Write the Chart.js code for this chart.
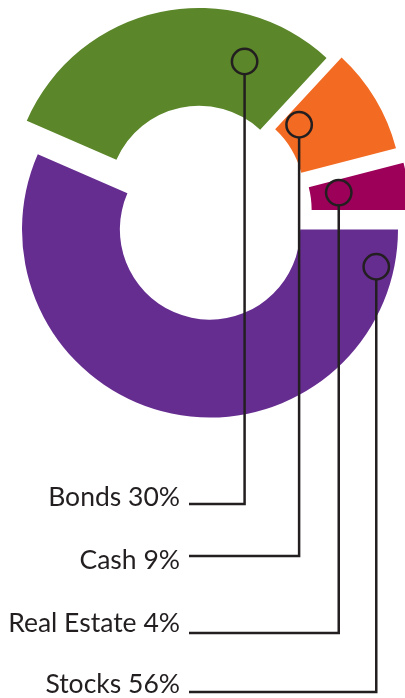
<!DOCTYPE html>
<html lang="en">
<head>
<meta charset="UTF-8" />
<title>Portfolio Allocation</title>
<script src="https://cdn.jsdelivr.net/npm/chart.js"></script>
<style>
  html, body { margin: 0; padding: 0; background: #fff; }
  #wrap { width: 405px; height: 698px; }
</style>
</head>
<body>
<div id="wrap"><canvas id="donut" width="405" height="698"></canvas></div>
<script>
// slices clockwise starting at 3 o'clock
const categories = ['Stocks', 'Bonds', 'Cash', 'Real Estate'];
const percents = [56, 30, 9, 4];
const colors = ['#662d91', '#5b8629', '#f36a22', '#9d0059'];

// order of the labels stacked under the ring
const labelOrder = ['Bonds', 'Cash', 'Real Estate', 'Stocks'];

// look of the original: slices pulled out by hand, not along their middle
const explode = [[0, 0], [-11, -33.5], [4, -34], [11.5, -19.5]];
// marker ring inside each slice: [fraction along the arc, fraction across the ring]
const markerAt = [[0.062, 0.82], [0.78, 0.53], [0.23, 0.21], [0.42, 0.29]];
const labelY = [497, 560, 623, 684];
const lineY = [504, 556, 633, 692];
const ink = '#231f20';

const explodePlugin = {
  id: 'explode',
  afterDatasetUpdate(chart, args) {
    args.meta.data.forEach((arc, i) => {
      arc.x += explode[i][0];
      arc.y += explode[i][1];
    });
  }
};

const calloutPlugin = {
  id: 'callouts',
  afterDraw(chart) {
    const ctx = chart.ctx;
    const arcs = chart.getDatasetMeta(0).data;
    ctx.save();
    ctx.strokeStyle = ink;
    ctx.fillStyle = ink;
    ctx.lineWidth = 2.5;
    ctx.font = '400 26.5px Lato';
    ctx.textAlign = 'right';
    ctx.textBaseline = 'middle';
    labelOrder.forEach((name, row) => {
      const i = categories.indexOf(name);
      const arc = arcs[i];
      const [fa, fr] = markerAt[i];
      const a = arc.startAngle + fa * (arc.endAngle - arc.startAngle);
      const r = arc.innerRadius + fr * (arc.outerRadius - arc.innerRadius);
      const mx = arc.x + Math.cos(a) * r;
      const my = arc.y + Math.sin(a) * r;
      const rad = 12.7;

      ctx.beginPath();
      ctx.arc(mx, my, rad, 0, Math.PI * 2);
      ctx.stroke();

      ctx.beginPath();
      ctx.moveTo(mx, my + rad);
      ctx.lineTo(mx, lineY[row]);
      ctx.lineTo(189, lineY[row]);
      ctx.stroke();

      ctx.fillText(name + ' ' + percents[i] + '%', 180, labelY[row]);
    });
    ctx.restore();
  }
};

new Chart(document.getElementById('donut'), {
  type: 'doughnut',
  data: {
    labels: categories,
    datasets: [{
      data: percents,
      backgroundColor: colors,
      borderWidth: 0,
      clip: false
    }]
  },
  options: {
    responsive: false,
    animation: false,
    events: [],
    rotation: 90,
    radius: 188,
    cutout: 93.5,
    layout: { padding: { left: 15, right: 0, top: 0, bottom: 239 } },
    plugins: {
      legend: { display: false },
      tooltip: { enabled: false }
    }
  },
  plugins: [explodePlugin, calloutPlugin]
});
</script>
</body>
</html>
